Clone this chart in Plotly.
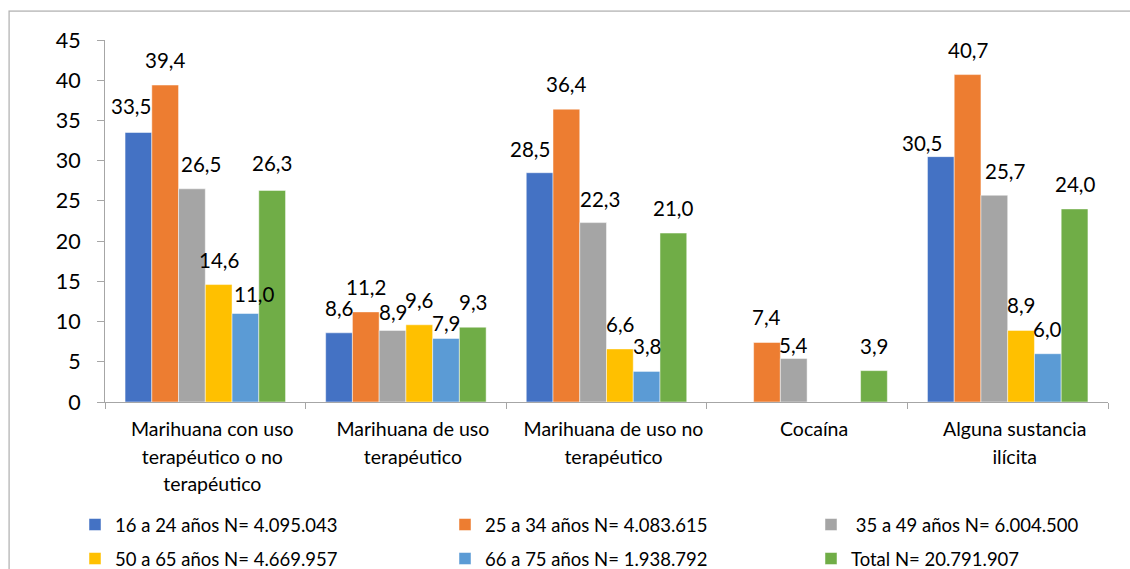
import base64
import plotly.graph_objects as go

# Categories (x axis) and the wrapped lines of each tick label
categories = ["Marihuana con uso terapéutico o no terapéutico",
              "Marihuana de uso terapéutico",
              "Marihuana de uso no terapéutico",
              "Cocaína",
              "Alguna sustancia ilícita"]
category_lines = [["Marihuana con uso", "terapéutico o no", "terapéutico"],
                  ["Marihuana de uso", "terapéutico"],
                  ["Marihuana de uso no", "terapéutico"],
                  ["Cocaína"],
                  ["Alguna sustancia", "ilícita"]]

# Series (age groups) and their values per category
series_names = ["16 a 24 años N= 4.095.043",
                "25 a 34 años N= 4.083.615",
                "\u00a035 a 49 años N= 6.004.500",
                "50 a 65 años N= 4.669.957",
                "66 a 75 años N= 1.938.792",
                "Total N= 20.791.907"]
vals_16_24 = [33.5, 8.6, 28.5, None, 30.5]
vals_25_34 = [39.4, 11.2, 36.4, 7.4, 40.7]
vals_35_49 = [26.5, 8.9, 22.3, 5.4, 25.7]
vals_50_65 = [14.6, 9.6, 6.6, None, 8.9]
vals_66_75 = [11.0, 7.9, 3.8, None, 6.0]
vals_total = [26.3, 9.3, 21.0, 3.9, 24.0]
series_values = [vals_16_24, vals_25_34, vals_35_49, vals_50_65, vals_66_75, vals_total]

y_ticks = [0, 5, 10, 15, 20, 25, 30, 35, 40, 45]

colors = ["#4472C4", "#ED7D31", "#A5A5A5", "#FFC000", "#5B9BD5", "#70AD47"]

# Label offsets in pixels (dx, dy) where labels are moved to avoid overlaps
DEFAULT_DY = 25
label_nudge = {
    (0, 0): (-7, 27), (0, 2): (9, 25), (0, 4): (9, 20), (0, 5): (0, 27),
    (1, 2): (0, 18), (1, 4): (0, 15),
    (2, 0): (-10, 24), (2, 2): (7, 24),
    (3, 2): (0, 14),
    (4, 0): (-19, 14), (4, 2): (11, 24),
}

W, H = 1130, 569
ML, MR, MT, MB = 105, 22, 40, 167
FONT = "Lato"
BARGAP = 0.2

plot_w = W - ML - MR
plot_h = H - MT - MB
px_x = lambda p: (p - ML) / plot_w
px_y = lambda p: (H - MB - p) / plot_h

# Legend grid: 3 columns x 2 rows, one legend box per entry
legend_cols_px = [75, 445, 811]
legend_rows_px = [525, 559]
legend_ids = ["legend", "legend2", "legend3", "legend4", "legend5", "legend6"]

fig = go.Figure()
for si, (name, vals) in enumerate(zip(series_names, series_values)):
    fig.add_trace(go.Bar(
        x=categories, y=vals, name=name,
        marker=dict(color=colors[si], line=dict(color="rgba(255,255,255,0.6)", width=0.8)),
        legend=legend_ids[si],
        hoverinfo="skip",
    ))

legend_layout = {}
for si, lid in enumerate(legend_ids):
    legend_layout[lid] = dict(
        orientation="h",
        x=px_x(legend_cols_px[si % 3]), xanchor="left",
        y=px_y(legend_rows_px[si // 3]), yanchor="middle",
        font=dict(family=FONT, size=18.5, color="#000000"),
        bgcolor="rgba(0,0,0,0)", borderwidth=0,
    )

# Data labels above each bar, positioned on the category axis by index
n_series = len(series_values)
bar_frac = (1 - BARGAP) / n_series
annotations = []
for si, vals in enumerate(series_values):
    for ci, v in enumerate(vals):
        if v is None:
            continue
        dx, dy = label_nudge.get((ci, si), (0, DEFAULT_DY))
        annotations.append(dict(
            x=ci + (si - (n_series - 1) / 2) * bar_frac, y=v,
            xref="x", yref="y",
            text=f"{v:.1f}".replace(".", ","),
            showarrow=False, xanchor="center", yanchor="middle",
            xshift=dx, yshift=dy,
            font=dict(family=FONT, size=20.5, color="#000000"),
        ))

ticktext = ["<br>".join(f"<span style='font-size:19.5px'>{ln}</span>" for ln in lines)
            for lines in category_lines]

# Outer chart frame (top and left edges) as a small inline SVG image
FRAME_W, FRAME_H = 1200, 620
frame_svg = (
    f"<svg xmlns='http://www.w3.org/2000/svg' width='{FRAME_W}' height='{FRAME_H}'>"
    f"<path d='M0.75,{FRAME_H} V0.75 H{FRAME_W}' fill='none' stroke='#B4B4B4' stroke-width='1.5'/>"
    "</svg>"
)
frame_src = "data:image/svg+xml;base64," + base64.b64encode(frame_svg.encode()).decode()

fig.update_layout(
    width=W, height=H,
    margin=dict(l=ML, r=MR, t=MT, b=MB, pad=0, autoexpand=False),
    paper_bgcolor="white", plot_bgcolor="white",
    barmode="group", bargap=BARGAP, bargroupgap=0,
    font=dict(family=FONT, color="#000000"),
    annotations=annotations,
    images=[dict(
        source=frame_src, xref="paper", yref="paper",
        x=px_x(8.25), y=px_y(10.25), sizex=FRAME_W / plot_w, sizey=FRAME_H / plot_h,
        xanchor="left", yanchor="top", sizing="stretch", layer="below",
    )],
    xaxis=dict(
        type="category", tickmode="array", tickvals=categories, ticktext=ticktext,
        tickfont=dict(family=FONT, size=21, color="#000000"),
        showline=True, linecolor="#A6A6A6", linewidth=1,
        ticks="outside", ticklen=6, tickcolor="#A6A6A6", tickson="boundaries",
        showgrid=False, zeroline=False, ticklabelstandoff=8, ticklabelshift=7,
    ),
    yaxis=dict(
        range=[0, 45], tickmode="array", tickvals=y_ticks,
        tickfont=dict(family=FONT, size=21.5, color="#000000"),
        showline=True, linecolor="#A6A6A6", linewidth=1,
        ticks="outside", ticklen=7, tickcolor="#A6A6A6",
        showgrid=False, zeroline=False, ticklabelstandoff=12,
    ),
    showlegend=True,
    **legend_layout,
)

fig.write_html("out.html")
